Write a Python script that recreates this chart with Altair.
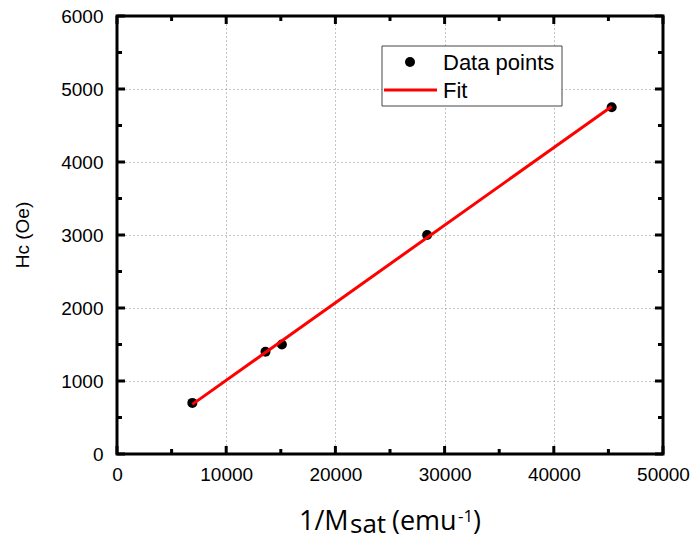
import altair as alt
import pandas as pd

# ---- data ----
inv_msat = [6900, 13600, 15100, 28400, 45300]
hc_oe = [700, 1400, 1500, 3000, 4750]
fit_x = [6900, 45300]
fit_y = [680, 4760]

x_ticks = [0, 5000, 10000, 15000, 20000, 25000, 30000, 35000, 40000, 45000, 50000]
y_ticks = [0, 500, 1000, 1500, 2000, 2500, 3000, 3500, 4000, 4500, 5000, 5500, 6000]
x_labels = [0, 10000, 20000, 30000, 40000, 50000]
y_labels = [0, 1000, 2000, 3000, 4000, 5000, 6000]
X_STEP, Y_STEP = 10000, 1000

W, H = 546, 438
X0, X1, Y0, Y1 = 0, 50000, 0, 6000
LABEL_FONT = "Liberation Sans"
TITLE_FONT = "Open Sans"

xs = alt.Scale(domain=[X0, X1], nice=False, zero=False)
ys = alt.Scale(domain=[Y0, Y1], nice=False, zero=False)

pts = pd.DataFrame({"x": inv_msat, "y": hc_oe})
fit = pd.DataFrame({"x": fit_x, "y": fit_y})
one = pd.DataFrame({"a": [0]})

grid_kw = dict(grid=True, gridColor="#8c8c8c", gridDash=[1, 3], gridWidth=1)

base = alt.Chart(pts).mark_point(filled=True, color="black", size=100, opacity=1).encode(
    x=alt.X("x:Q", scale=xs, title=None,
            axis=alt.Axis(values=x_labels, format="d", domain=False, ticks=False, tickSize=0,
                          labelFont=LABEL_FONT, labelFontSize=19, labelColor="black",
                          labelPadding=11, labelFlush=False, **grid_kw)),
    y=alt.Y("y:Q", scale=ys, title=None,
            axis=alt.Axis(values=y_labels, format="d", domain=False, ticks=False, tickSize=0,
                          labelFont=LABEL_FONT, labelFontSize=19, labelColor="black",
                          labelPadding=14, labelFlush=False, **grid_kw)),
)

line = alt.Chart(fit).mark_line(color="#ff0000", strokeWidth=3).encode(
    x=alt.X("x:Q", scale=xs), y=alt.Y("y:Q", scale=ys))

# inward ticks drawn as short line segments (8 px major, 5 px minor)
ly8, ly5 = 8 * (Y1 - Y0) / H, 5 * (Y1 - Y0) / H
lx8, lx5 = 8 * (X1 - X0) / W, 5 * (X1 - X0) / W

def xtick_layer(edge, sign):
    return alt.Chart(pd.DataFrame({"x": x_ticks})).transform_calculate(
        L=f"datum.x % {X_STEP} === 0 ? {ly8} : {ly5}",
        a=f"{edge}", b=f"{edge} + {sign} * datum.L",
    ).transform_fold(["a", "b"], as_=["end", "y"]).mark_line(
        color="black", strokeWidth=3, strokeCap="butt").encode(
        x=alt.X("x:Q", scale=xs), y=alt.Y("y:Q", scale=ys), detail="x:N")

def ytick_layer(edge, sign):
    return alt.Chart(pd.DataFrame({"y": y_ticks})).transform_calculate(
        L=f"datum.y % {Y_STEP} === 0 ? {lx8} : {lx5}",
        a=f"{edge}", b=f"{edge} + {sign} * datum.L",
    ).transform_fold(["a", "b"], as_=["end", "x"]).mark_line(
        color="black", strokeWidth=3, strokeCap="butt").encode(
        x=alt.X("x:Q", scale=xs), y=alt.Y("y:Q", scale=ys), detail="y:N", order="end:N")

ticks = [xtick_layer(Y0, 1), xtick_layer(Y1, -1), ytick_layer(X0, 1), ytick_layer(X1, -1)]

# plot frame
frame = alt.Chart(one).mark_rect(fill="transparent", stroke="black", strokeWidth=3).encode(
    x=alt.value(0), x2=alt.value(W), y=alt.value(0), y2=alt.value(H))

# legend box
leg_box = alt.Chart(one).mark_rect(fill="white", stroke="#444444", strokeWidth=1).encode(
    x=alt.value(265), x2=alt.value(445), y=alt.value(30), y2=alt.value(90))
leg_dot = alt.Chart(one).mark_point(filled=True, color="black", size=100, opacity=1).encode(
    x=alt.value(293), y=alt.value(46))
leg_line = alt.Chart(one).mark_rule(color="#ff0000", strokeWidth=3).encode(
    x=alt.value(267), x2=alt.value(320), y=alt.value(74))
leg_t1 = alt.Chart(one).mark_text(text="Data points", font=LABEL_FONT, fontSize=22, align="left",
                                  baseline="alphabetic", color="black").encode(
    x=alt.value(326), y=alt.value(54))
leg_t2 = alt.Chart(one).mark_text(text="Fit", font=LABEL_FONT, fontSize=22, align="left",
                                  baseline="alphabetic", color="black").encode(
    x=alt.value(326), y=alt.value(82))

# y title: H_C (Oe) as one rotated string (small-capital C as the subscript)
ytitle = alt.Chart(one).mark_text(text="H\u1d04 (Oe)", font=LABEL_FONT, fontSize=19, angle=270,
                                  align="center", baseline="alphabetic", color="black").encode(
    x=alt.value(-88), y=alt.value(219))

# x title: 1/M_sat (emu^-1)
def xtxt(t, size, sx, by, align="left"):
    return alt.Chart(one).mark_text(text=t, font=TITLE_FONT, fontSize=size, align=align,
                                    baseline="alphabetic", color="black").encode(
        x=alt.value(sx), y=alt.value(by))

xtitle = [xtxt("1/M", 27, 182, 514), xtxt("sat", 26, 233, 517), xtxt("(emu", 27, 275, 514),
          xtxt("-1", 17, 341, 506), xtxt(")", 27, 356, 514)]

chart = alt.layer(base, line, *ticks, frame, leg_box, leg_dot, leg_line, leg_t1, leg_t2,
                  ytitle, *xtitle).properties(
    width=W, height=H,
    autosize=alt.AutoSizeParams(type="none"),
    padding={"left": 117, "top": 16, "right": 29, "bottom": 87},
    background="white",
).configure_view(strokeWidth=0)

chart.save("out.html", embed_options={"renderer": "svg", "actions": False})
